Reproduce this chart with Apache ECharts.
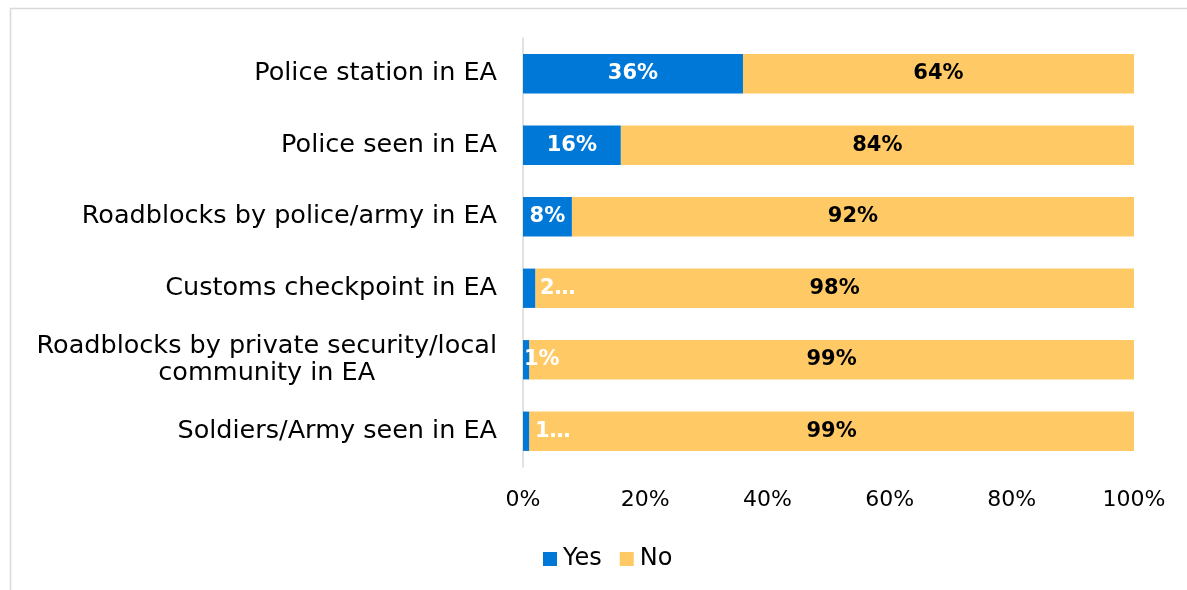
<!DOCTYPE html>
<html>
<head>
<meta charset="utf-8">
<script src="https://cdn.jsdelivr.net/npm/echarts@6/dist/echarts.min.js"></script>
<style>
  html, body { margin: 0; padding: 0; background: #ffffff; }
  #chart { width: 1187px; height: 590px; }
</style>
</head>
<body>
<div id="chart"></div>
<script>
// Survey items, listed top to bottom
const categories = [
  'Police station in EA',
  'Police seen in EA',
  'Roadblocks by police/army in EA',
  'Customs checkpoint in EA',
  'Roadblocks by private security/local\ncommunity in EA',
  'Soldiers/Army seen in EA'
];
// Share of respondents (%)
const yesValues = [36, 16, 8, 2, 1, 1];
const noValues = [64, 84, 92, 98, 99, 99];
// Text shown on the narrow "Yes" segments, which do not fit their labels
const yesShortText = [null, null, null, '2\u2026', '1%', '1\u2026'];
const xTicks = [0, 20, 40, 60, 80, 100];

const FONT = '"DejaVu Sans", sans-serif';
const BLUE = '#0078D7';
const YELLOW = '#FFCA66';
const CAT_SIZE = 25.5;

const chart = echarts.init(document.getElementById('chart'));

const yesData = yesValues.map((v, i) => {
  const item = { value: v };
  if (yesShortText[i]) {
    const shift = [0, 0, 0, 17, 1, 12][i];
    item.label = {
      position: 'insideLeft',
      distance: shift,
      formatter: yesShortText[i]
    };
  }
  return item;
});

// width of the longest wrapped line, so the lines of a wrapped label centre on each other
const measureCtx = document.createElement('canvas').getContext('2d');
measureCtx.font = CAT_SIZE + 'px ' + FONT;
const wrapWidth = Math.max(...categories.filter(c => c.includes('\n'))
  .flatMap(c => c.split('\n')).map(s => measureCtx.measureText(s).width));

chart.setOption({
  animation: false,
  textStyle: { fontFamily: FONT },
  graphic: [{
    type: 'rect',
    shape: { x: 10.5, y: 8.5, width: 1200, height: 620 },
    style: { fill: 'none', stroke: '#D9D9D9', lineWidth: 1.5 },
    silent: true
  }],
  grid: { left: 523, right: 53, top: 38, bottom: 123 },
  legend: {
    data: ['Yes', 'No'],
    left: 538,
    top: 542,
    icon: 'rect',
    itemWidth: 14,
    itemHeight: 14,
    itemGap: 18,
    textStyle: { fontFamily: FONT, fontSize: 24, color: '#000000', padding: [0, 0, 0, 1] }
  },
  xAxis: {
    type: 'value',
    min: 0,
    max: 100,
    interval: 20,
    axisLine: { show: false },
    axisTick: { show: false },
    splitLine: { show: false },
    axisLabel: {
      formatter: v => xTicks.includes(v) ? v + '%' : '',
      fontFamily: FONT,
      fontSize: 22,
      color: '#000000',
      margin: 22
    }
  },
  yAxis: {
    type: 'category',
    inverse: true,
    data: categories,
    axisLine: { show: true, lineStyle: { color: '#D9D9D9', width: 1.5 } },
    axisTick: { show: false },
    axisLabel: {
      fontFamily: FONT,
      fontSize: CAT_SIZE,
      color: '#000000',
      margin: 26,
      lineHeight: 27,
      formatter: v => v.includes('\n')
        ? v.split('\n').map(s => '{c|' + s + '}').join('\n')
        : v,
      rich: {
        c: { width: wrapWidth, align: 'center', fontSize: CAT_SIZE, lineHeight: 27, fontFamily: FONT, color: '#000000' }
      }
    }
  },
  series: [
    {
      name: 'Yes',
      type: 'bar',
      stack: 'total',
      barWidth: '55%',
      z: 3,
      itemStyle: { color: BLUE },
      label: {
        show: true,
        position: 'inside',
        color: '#ffffff',
        fontWeight: 'bold',
        fontSize: 21,
        fontFamily: FONT,
        formatter: p => p.value + '%'
      },
      data: yesData
    },
    {
      name: 'No',
      type: 'bar',
      stack: 'total',
      barWidth: '55%',
      z: 2,
      itemStyle: { color: YELLOW },
      label: {
        show: true,
        position: 'inside',
        color: '#000000',
        fontWeight: 'bold',
        fontSize: 21,
        fontFamily: FONT,
        formatter: p => p.value + '%'
      },
      data: noValues
    }
  ]
});
</script>
</body>
</html>
